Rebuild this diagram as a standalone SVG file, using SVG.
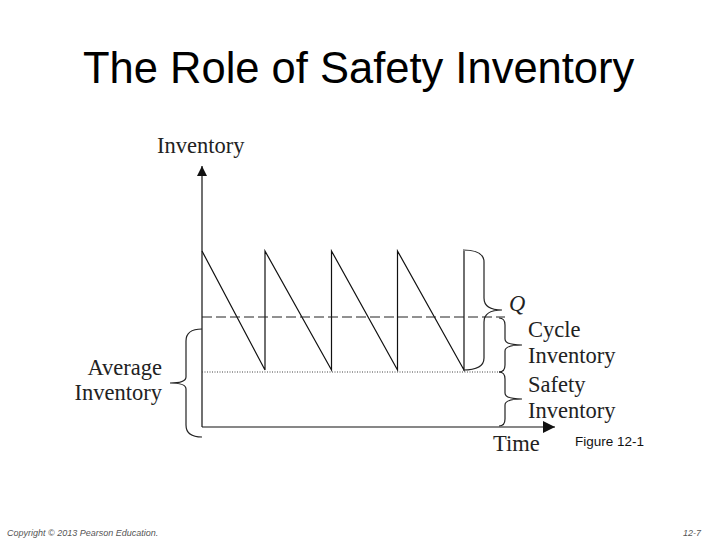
<svg xmlns="http://www.w3.org/2000/svg" width="720" height="540" viewBox="0 0 720 540">
<style>
.title{font-family:"Liberation Sans",Arial,sans-serif;font-size:43.5px;fill:#000}
.lbl{font-family:"Liberation Serif","Times New Roman",serif;font-size:22.5px;fill:#222}
.sans{font-family:"Liberation Sans",Arial,sans-serif;fill:#111}
.foot{font-family:"Liberation Sans",Arial,sans-serif;font-size:9px;fill:#555;font-style:italic}
.ln{stroke:#111;stroke-width:1.2;fill:none}
.br{stroke:#222;stroke-width:1.2;fill:none}
</style>
<defs>
<marker id="arr" viewBox="0 0 10 10" refX="10" refY="5" markerWidth="10" markerHeight="10" markerUnits="userSpaceOnUse" orient="auto">
<path d="M0,0 L10,5 L0,10 z" fill="#111"/>
</marker>
<marker id="arrx" viewBox="0 0 12 12" refX="12" refY="6" markerWidth="12" markerHeight="12" markerUnits="userSpaceOnUse" orient="auto">
<path d="M0,0 L12,6 L0,12 z" fill="#111"/>
</marker>
</defs>
<rect width="720" height="540" fill="#fff"/>
<text class="title" x="83" y="83">The Role of Safety Inventory</text>

<g id="axes">
<line class="ln" x1="202" y1="427" x2="202" y2="166" marker-end="url(#arr)"/>
<line class="ln" x1="202" y1="427" x2="555" y2="427" marker-end="url(#arrx)"/>
</g>

<g id="connectors">
<path id="sawtooth" class="ln" d="M202,251 L265,370 L265,251 L331.5,370 L331.5,251 L397.5,370 L397.5,251 L464,370 L464,251"/>
<line id="avg-line" x1="202" y1="317" x2="505" y2="317" stroke="#222" stroke-width="1" stroke-dasharray="10 4"/>
<line id="safety-line" x1="202" y1="372" x2="502" y2="372" stroke="#444" stroke-width="1" stroke-dasharray="1 1.5"/>
</g>

<g id="brace-q">
<path class="br" d="M463,250 Q484,250 484,262 L484,298 Q484,310 502,310 Q484,310 484,322 L484,358 Q484,370 463,370"/>
<text class="lbl" x="509" y="311" font-style="italic">Q</text>
</g>

<g id="brace-cycle">
<path class="br" d="M499,318 Q505,318 505,325 L505,339 Q505,345 522,345 Q505,345 505,351 L505,365 Q505,372 499,372"/>
<text class="lbl" x="528" y="337">Cycle</text>
<text class="lbl" x="528" y="363">Inventory</text>
</g>

<g id="brace-safety">
<path class="br" d="M499,372 Q505,372 505,379 L505,393 Q505,399 522,399 Q505,399 505,405 L505,419 Q505,426 499,426"/>
<text class="lbl" x="528" y="392">Safety</text>
<text class="lbl" x="528" y="418">Inventory</text>
</g>

<g id="brace-average">
<path class="br" d="M202,329 Q186,329 186,341 L186,377 Q186,383 170,383 Q186,383 186,389 L186,425 Q186,437 202,437"/>
<text class="lbl" x="162" y="375" text-anchor="end">Average</text>
<text class="lbl" x="162" y="400" text-anchor="end">Inventory</text>
</g>

<g id="axis-labels">
<text class="lbl" x="157" y="153">Inventory</text>
<text class="lbl" x="493" y="451">Time</text>
<text class="sans" x="575" y="446" font-size="13.5">Figure 12-1</text>
</g>

<text class="foot" x="7" y="536">Copyright © 2013 Pearson Education.</text>
<text class="foot" x="683" y="536" font-style="normal" font-size="8">12-7</text>
</svg>
